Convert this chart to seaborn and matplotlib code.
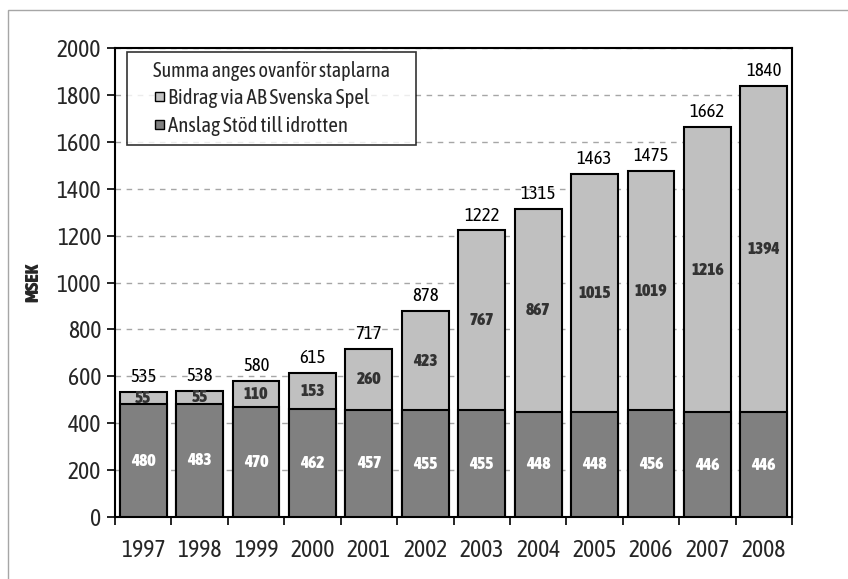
import matplotlib
matplotlib.use("Agg")
import matplotlib.pyplot as plt
import matplotlib.patches as mpatches
import matplotlib.patheffects as pe
from matplotlib.legend_handler import HandlerPatch
import seaborn as sns
import pandas as pd
import numpy as np
from matplotlib import font_manager

years = ["1997", "1998", "1999", "2000", "2001", "2002", "2003", "2004", "2005", "2006", "2007", "2008"]
anslag = [480, 483, 470, 462, 457, 455, 455, 448, 448, 456, 446, 446]
bidrag = [55, 55, 110, 153, 260, 423, 767, 867, 1015, 1019, 1216, 1394]
totals = [535, 538, 580, 615, 717, 878, 1222, 1315, 1463, 1475, 1662, 1840]

sns.set_theme(style="white")

# choose a condensed family, preferring one with regular and bold faces
fams = {}
for f in font_manager.fontManager.ttflist:
    if "Narrow" in f.name or "Condensed" in f.name:
        w = f.weight if isinstance(f.weight, int) else font_manager.weight_dict.get(f.weight, 400)
        fams.setdefault(f.name, set()).add(w)
cond_fam = None
for name, ws in fams.items():
    if any(380 <= w <= 450 for w in ws) and any(w >= 600 for w in ws):
        cond_fam = name
        break
if cond_fam is None and fams:
    cond_fam = list(fams.keys())[0]
if cond_fam is None:
    cond_fam = "Liberation Sans"
weights = sorted(fams.get(cond_fam, {400, 700}))
w_reg = min(weights, key=lambda w: abs(w - 400))
w_bold = max(weights)
need_stroke = w_bold < 600

plt.rcParams["font.family"] = [cond_fam, "DejaVu Sans"]
plt.rcParams["font.weight"] = w_reg

def bold_kw(color):
    if need_stroke:
        return dict(fontweight=w_reg, path_effects=[pe.withStroke(linewidth=0.9, foreground=color)])
    return dict(fontweight=w_bold)

df = pd.DataFrame({"year": years, "anslag": anslag, "bidrag": bidrag, "total": totals})

fig = plt.figure(figsize=(8.48, 5.79), dpi=100)
fig.patches.append(mpatches.Rectangle((8/848, -0.1), 1.2, 1 - 10/579 + 0.1, transform=fig.transFigure,
                                      fill=False, edgecolor="#a6a6a6", linewidth=1.0))
ax = fig.add_axes([115/848, 1 - 517/579, (792 - 115)/848, (517 - 48)/579])

light = "#c0c0c0"
dark = "#808080"
sns.barplot(data=df, x="year", y="total", color=light, edgecolor="black", linewidth=1.5,
            width=0.83, saturation=1, ax=ax, zorder=3)
sns.barplot(data=df, x="year", y="anslag", color=dark, edgecolor="black", linewidth=1.5,
            width=0.83, saturation=1, ax=ax, zorder=3)

ax.set_ylim(0, 2000)
ax.set_xlim(-0.5, len(years) - 0.5)
ax.set_yticks(np.arange(0, 2001, 200))
ax.yaxis.grid(True, linestyle=(0, (4, 4)), color="#a6a6a6", linewidth=1.0, zorder=0)
ax.set_axisbelow(True)
for s in ax.spines.values():
    s.set_color("black")
    s.set_linewidth(1.5)

ax.set_xlabel("")
ax.set_ylabel("MSEK", fontsize=14, labelpad=10, **bold_kw("black"))
ax.tick_params(axis="y", which="major", direction="out", length=6, width=1.2, color="black",
               labelsize=17, pad=4, left=True)
ax.tick_params(axis="x", which="major", length=0, labelsize=17, pad=16)
ax.set_xticks(np.arange(len(years) + 1) - 0.5, minor=True)
ax.tick_params(axis="x", which="minor", direction="out", length=6, width=1.2, color="black", bottom=True)

for i in range(len(years)):
    a = anslag[i]
    b = bidrag[i]
    t = totals[i]
    ax.text(i, a / 2, str(a), ha="center", va="center", fontsize=12.5, color="white", zorder=5,
            **bold_kw("white"))
    ax.text(i, a + b / 2, str(b), ha="center", va="center", fontsize=12.5, color="#333333", zorder=5,
            **bold_kw("#333333"))
    ax.text(i, t + 25, str(t), ha="center", va="bottom", fontsize=13.5, color="black", zorder=5)

def square(legend, orig_handle, xdescent, ydescent, width, height, fontsize):
    s = 9.0 * 72 / 100  # points
    return mpatches.Rectangle((width - s - xdescent, (height - s) / 2 - ydescent), s, s)

handles = [mpatches.Patch(facecolor=light, edgecolor="black", linewidth=1.0, label="Bidrag via AB Svenska Spel"),
           mpatches.Patch(facecolor=dark, edgecolor="black", linewidth=1.0, label="Anslag Stöd till idrotten")]
x0 = (127 - 115) / 677
y1 = (517 - 52) / 469
w = (416 - 127) / 677
leg = ax.legend(handles=handles, title="Summa anges ovanför staplarna", loc="upper left",
                bbox_to_anchor=(x0, y1 - 0.2, w, 0.2), mode="expand",
                fontsize=15, title_fontsize=14.5,
                handler_map={mpatches.Patch: HandlerPatch(patch_func=square)},
                frameon=True, fancybox=False, edgecolor="black", handlelength=1.35, handleheight=0.6,
                handletextpad=0.2, borderpad=0.42, labelspacing=0.36, borderaxespad=0)
leg.get_frame().set_linewidth(1.2)
leg.set_zorder(6)

fig.savefig("out.png", dpi=100)
